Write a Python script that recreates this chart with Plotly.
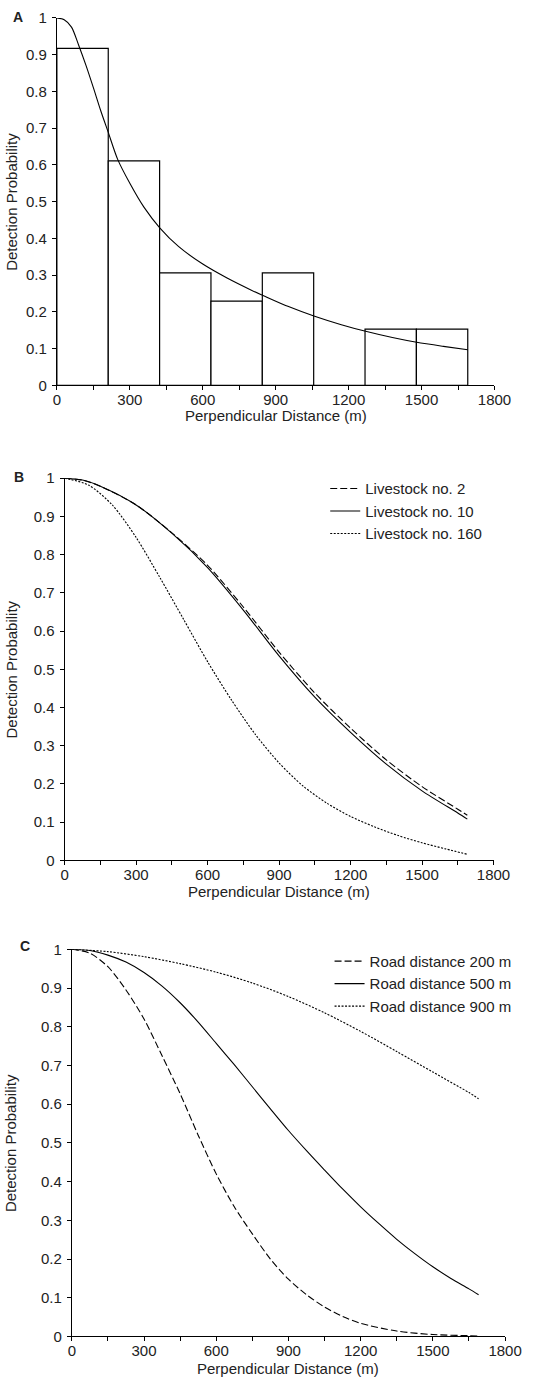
import plotly.graph_objects as go

W, H = 549, 1384

# ---------------- data ----------------
# Panel A: histogram of scaled detections and fitted detection function
bin_width = 211.25
bin_centers = [105.6, 316.9, 528.1, 739.4, 950.6, 1161.9, 1373.1, 1584.4]
bin_heights = [0.917, 0.611, 0.306, 0.229, 0.306, 0.0, 0.153, 0.153]

curveA_x = [0, 30, 60, 90, 120, 150, 180, 211, 250, 300, 358, 424, 500, 600, 700, 800,
            850, 950, 1060, 1170, 1270, 1380, 1480, 1590, 1690]
curveA_y = [1.0, 0.995, 0.975, 0.925, 0.87, 0.81, 0.748, 0.689, 0.615, 0.55, 0.485, 0.428,
            0.378, 0.33, 0.292, 0.259, 0.244, 0.215, 0.188, 0.165, 0.147, 0.13, 0.117, 0.106, 0.097]

# Panel B: livestock numbers
B_x = [0, 75, 150, 300, 450, 600, 750, 900, 1050, 1200, 1350, 1500, 1650, 1690]
B_live2 = [1.0, 0.995, 0.979, 0.93, 0.857, 0.772, 0.663, 0.545, 0.438, 0.346, 0.263, 0.193, 0.134, 0.118]
B_live10 = [1.0, 0.995, 0.979, 0.93, 0.856, 0.766, 0.655, 0.535, 0.427, 0.335, 0.252, 0.182, 0.124, 0.108]
B160_x = [0, 100, 200, 300, 400, 500, 600, 700, 800, 900, 1000, 1100, 1200, 1300, 1400, 1500, 1600, 1690]
B_live160 = [1.0, 0.982, 0.93, 0.845, 0.74, 0.63, 0.52, 0.42, 0.33, 0.255, 0.195, 0.15, 0.115,
             0.088, 0.065, 0.046, 0.03, 0.016]

# Panel C: road distance
C200_x = [0, 75, 150, 225, 300, 375, 450, 525, 600, 675, 750, 825, 900, 975, 1050, 1125, 1200,
          1350, 1500, 1650, 1690]
C_road200 = [1.0, 0.99, 0.955, 0.895, 0.82, 0.725, 0.627, 0.52, 0.42, 0.335, 0.265, 0.2, 0.148,
             0.108, 0.076, 0.052, 0.034, 0.014, 0.005, 0.002, 0.001]
C500_x = [0, 75, 150, 225, 300, 375, 450, 525, 600, 675, 750, 825, 900, 975, 1050, 1125, 1200,
          1275, 1350, 1425, 1500, 1575, 1650, 1690]
C_road500 = [1.0, 0.997, 0.985, 0.967, 0.94, 0.905, 0.862, 0.812, 0.757, 0.702, 0.645, 0.588, 0.532,
             0.48, 0.43, 0.381, 0.335, 0.292, 0.251, 0.214, 0.18, 0.15, 0.123, 0.108]
C900_x = [0, 150, 300, 450, 600, 750, 900, 1050, 1200, 1350, 1500, 1650, 1690]
C_road900 = [1.0, 0.994, 0.981, 0.963, 0.941, 0.913, 0.878, 0.836, 0.788, 0.736, 0.683, 0.63, 0.614]

x_ticks = list(range(0, 1801, 150))
x_ticktext = [str(v) if v % 300 == 0 else "" for v in x_ticks]
y_ticks = [i / 10 for i in range(11)]
y_ticktext = ["0", "0.1", "0.2", "0.3", "0.4", "0.5", "0.6", "0.7", "0.8", "0.9", "1"]

# ---------------- layout helpers ----------------
FONT = "Liberation Sans, Arial, sans-serif"
TXT = "#222222"
FS = 15


def px(x):
    return x / W


def py(y):
    return 1 - y / H


panels = {
    "A": dict(left=55, right=510, top=9, bottom=381, title_gap=31, lab=(14.5, 8)),
    "B": dict(left=63, right=509, top=475, bottom=862, title_gap=31, lab=(15.5, 473.5)),
    "C": dict(left=70.5, right=521, top=952, bottom=1344, title_gap=32, lab=(22, 949)),
}

fig = go.Figure()

# Panel A
fig.add_trace(go.Bar(x=bin_centers, y=bin_heights, width=bin_width,
                     marker=dict(color="white", line=dict(color="black", width=1.2)),
                     showlegend=False, xaxis="x", yaxis="y"))
fig.add_trace(go.Scatter(x=curveA_x, y=curveA_y, mode="lines",
                         line=dict(color="black", width=1.1, shape="spline", smoothing=0.8),
                         showlegend=False, xaxis="x", yaxis="y"))

# Panel B
fig.add_trace(go.Scatter(x=B_x, y=B_live2, mode="lines", name="Livestock no. 2",
                         line=dict(color="black", width=1.1, dash="7px,3px", shape="spline", smoothing=0.8),
                         xaxis="x2", yaxis="y2", legend="legend"))
fig.add_trace(go.Scatter(x=B_x, y=B_live10, mode="lines", name="Livestock no. 10",
                         line=dict(color="black", width=1.1, shape="spline", smoothing=0.8),
                         xaxis="x2", yaxis="y2", legend="legend"))
fig.add_trace(go.Scatter(x=B160_x, y=B_live160, mode="lines", name="Livestock no. 160",
                         line=dict(color="black", width=1.1, dash="2px,1.5px", shape="spline", smoothing=0.8),
                         xaxis="x2", yaxis="y2", legend="legend"))

# Panel C
fig.add_trace(go.Scatter(x=C200_x, y=C_road200, mode="lines", name="Road distance 200 m",
                         line=dict(color="black", width=1.1, dash="7px,3px", shape="spline", smoothing=0.8),
                         xaxis="x3", yaxis="y3", legend="legend2"))
fig.add_trace(go.Scatter(x=C500_x, y=C_road500, mode="lines", name="Road distance 500 m",
                         line=dict(color="black", width=1.1, shape="spline", smoothing=0.8),
                         xaxis="x3", yaxis="y3", legend="legend2"))
fig.add_trace(go.Scatter(x=C900_x, y=C_road900, mode="lines", name="Road distance 900 m",
                         line=dict(color="black", width=1.1, dash="2px,1.5px", shape="spline", smoothing=0.8),
                         xaxis="x3", yaxis="y3", legend="legend2"))

axis_common = dict(showgrid=False, zeroline=False, showline=True, linecolor="black", linewidth=1,
                   ticks="outside", ticklen=4, tickcolor="black", tickwidth=1,
                   tickfont=dict(family=FONT, size=FS, color=TXT), fixedrange=True)

layout = dict(width=W, height=H, margin=dict(l=0, r=0, t=0, b=0), paper_bgcolor="white",
              plot_bgcolor="white", font=dict(family=FONT, size=FS, color=TXT), bargap=0)

annotations = []
for i, (key, p) in enumerate(panels.items()):
    sfx = "" if i == 0 else str(i + 1)
    layout["xaxis" + sfx] = dict(axis_common, domain=[px(p["left"]), px(p["right"])], range=[0, 1800],
                                 tickmode="array", tickvals=x_ticks, ticktext=x_ticktext,
                                 anchor="y" + sfx, ticklabelstandoff=-3)
    layout["yaxis" + sfx] = dict(axis_common, domain=[py(p["bottom"]), py(p["top"])], range=[0, 1],
                                 tickmode="array", tickvals=y_ticks, ticktext=y_ticktext,
                                 anchor="x" + sfx, ticklabelstandoff=2)
    cx = (p["left"] + p["right"]) / 2
    annotations.append(dict(text="Perpendicular Distance (m)", x=px(cx), y=py(p["bottom"] + p["title_gap"]),
                            xref="paper", yref="paper", showarrow=False, xanchor="center", yanchor="middle",
                            font=dict(family=FONT, size=FS, color=TXT)))
    cy = (p["top"] + p["bottom"]) / 2
    annotations.append(dict(text="Detection Probability", x=px(7.5), y=py(cy), textangle=-90,
                            xref="paper", yref="paper", showarrow=False, xanchor="center", yanchor="middle",
                            font=dict(family=FONT, size=FS, color=TXT)))
    lx, ly = p["lab"]
    annotations.append(dict(text="<b>" + key + "</b>", x=px(lx), y=py(ly), xref="paper", yref="paper",
                            showarrow=False, xanchor="center", yanchor="middle",
                            font=dict(family=FONT, size=14, color=TXT)))

layout["annotations"] = annotations
layout["legend"] = dict(x=px(334), y=py(469), xanchor="left", yanchor="top", bgcolor="rgba(0,0,0,0)",
                        font=dict(family=FONT, size=FS, color=TXT), itemwidth=30, tracegroupgap=0)
layout["legend2"] = dict(x=px(338.5), y=py(947.5), xanchor="left", yanchor="top", bgcolor="rgba(0,0,0,0)",
                         font=dict(family=FONT, size=FS, color=TXT), itemwidth=30, tracegroupgap=0)

fig.update_layout(**layout)
fig.write_html("out.html",
               config={"displayModeBar": False, "staticPlot": True},
               post_script="document.body.style.margin='0px';document.body.style.padding='0px';"
                           "document.body.style.overflow='hidden';")
